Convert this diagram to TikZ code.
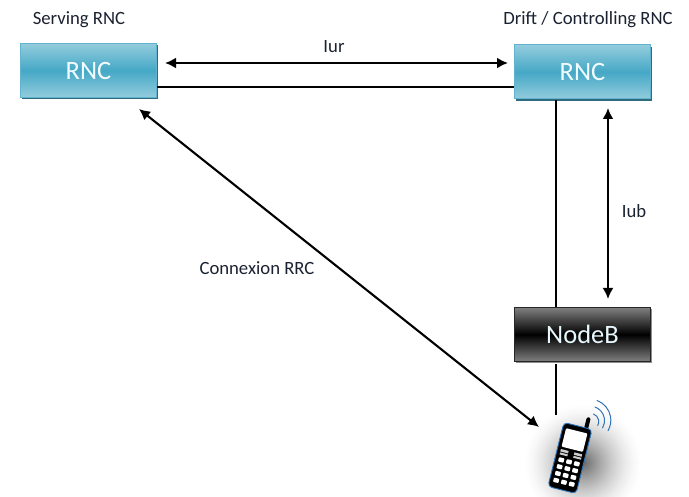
\documentclass[tikz,border=0pt]{standalone}
\usepackage{fontspec}
\setmainfont{Carlito}
\usetikzlibrary{arrows.meta,shadows}
\tikzset{
  x=1pt,y=-1pt,
  boxbase/.style={minimum width=136pt,minimum height=54pt,inner sep=0pt,line width=1pt,font=\fontsize{26.5}{27}\selectfont},
  rncbox/.style={boxbase,draw=#1,text=white!95!cyan,top color=rnclight,bottom color=rnclight,middle color=rncmid,drop shadow={shadow xshift=1.6pt,shadow yshift=-2pt,fill=rncshadow,opacity=1}},
  nodebbox/.style={boxbase,draw=black!85,text=white!90!cyan,top color=black!50,bottom color=black!50,middle color=black,drop shadow={shadow xshift=1.6pt,shadow yshift=-2pt,fill=black!45,opacity=1}},
  lbl/.style={text=labeltext,inner sep=0pt,font=\fontsize{18.7}{19}\selectfont},
  plainlink/.style={line width=2.9pt,draw=black},
  arrowlink/.style={line width=2.1pt,draw=black,{Latex[length=11pt,width=11pt]}-{Latex[length=11pt,width=11pt]}},
  wave/.style={line width=1pt,draw=waveblue,line cap=round},
}
\definecolor{rnclight}{HTML}{93CCDD}
\definecolor{rncmid}{HTML}{45A8C6}
\definecolor{rncshadow}{HTML}{2F6B7E}
\definecolor{rncedge}{HTML}{62B4CE}
\definecolor{labeltext}{HTML}{1A2130}
\definecolor{waveblue}{HTML}{2F74B8}
\begin{document}
\begin{tikzpicture}
\useasboundingbox (0,0) rectangle (689,497);
% soft shadow behind the handset
\begin{scope}
\clip (0,0) rectangle (689,497);
\foreach \rr in {59,58,...,1}{
  \pgfmathsetmacro{\vv}{60*(1-\rr/60)^1.6}
  \fill[black!\vv!white] (583,463) circle[radius=\rr];
}
\end{scope}
% boxes
\node[rncbox=rncedge] (rnc1) at (88.5,70.5) {RNC};
\node[rncbox=rncedge] (rnc2) at (582.5,72) {RNC};
\node[nodebbox] (nodeb) at (582.5,334.5) {NodeB};
% labels
\node[lbl] (serving) at (79,20) {Serving RNC};
\node[lbl] (drift) at (588,20) {Drift / Controlling RNC};
\node[lbl] (iur) at (334,47) {Iur};
\node[lbl] (iub) at (634,211) {Iub};
\node[lbl] (rrc) at (257,268) {Connexion RRC};
% anchor points
\coordinate (a1) at (165,63);
\coordinate (a2) at (508,63);
\coordinate (l1) at (rnc1.east |- 0,87);
\coordinate (l2) at (rnc2.west |- 0,87);
\coordinate (v1) at (556,100);
\coordinate (v2) at (556,0 |- nodeb.north);
\coordinate (v3) at (556,364);
\coordinate (v4) at (556,415);
\coordinate (b1) at (608,108);
\coordinate (b2) at (608,299);
\coordinate (d1) at (139,109);
\coordinate (d2) at (539,427);
% connectors
\draw[arrowlink] (a1) -- (a2);
\draw[plainlink] (l1) -- (l2);
\draw[plainlink] (v1) -- (v2);
\draw[plainlink] (v3) -- (v4);
\draw[arrowlink] (b1) -- (b2);
\draw[arrowlink] (d1) -- (d2);
% handset
\begin{scope}[shift={(570,458)},rotate=-14]
\draw[line width=4pt,draw=black,line cap=round] (8.5,-28) -- (8.5,-42);
\fill[black,draw=waveblue,line width=0.9pt,rounded corners=4pt] (-14.5,-33) rectangle (14.5,33);
\fill[white,rounded corners=1pt] (-11,-28) rectangle (11,-9);
\foreach \yy in {-5}{
  \fill[white!80!black] (-11,\yy-1.5) rectangle (-3,\yy+1);
  \fill[white!80!black] (3,\yy-1.5) rectangle (11,\yy+1);
  \fill[white!80!black] (-11,\yy+2) rectangle (-3,\yy+4);
  \fill[white!80!black] (3,\yy+2) rectangle (11,\yy+4);
}
\foreach \kx in {-8,0,8}
  \foreach \ky in {4,11,18,25}
    \fill[white,rounded corners=0.8pt] (\kx-2.8,\ky-2.2) rectangle (\kx+2.8,\ky+2.2);
\end{scope}
\draw[wave] (593.5,414) arc[start angle=-70,end angle=30,radius=8];
\draw[wave] (595,407) arc[start angle=-70,end angle=30,radius=14.5];
\draw[wave] (597,400.5) arc[start angle=-70,end angle=30,radius=21];
\end{tikzpicture}
\end{document}
